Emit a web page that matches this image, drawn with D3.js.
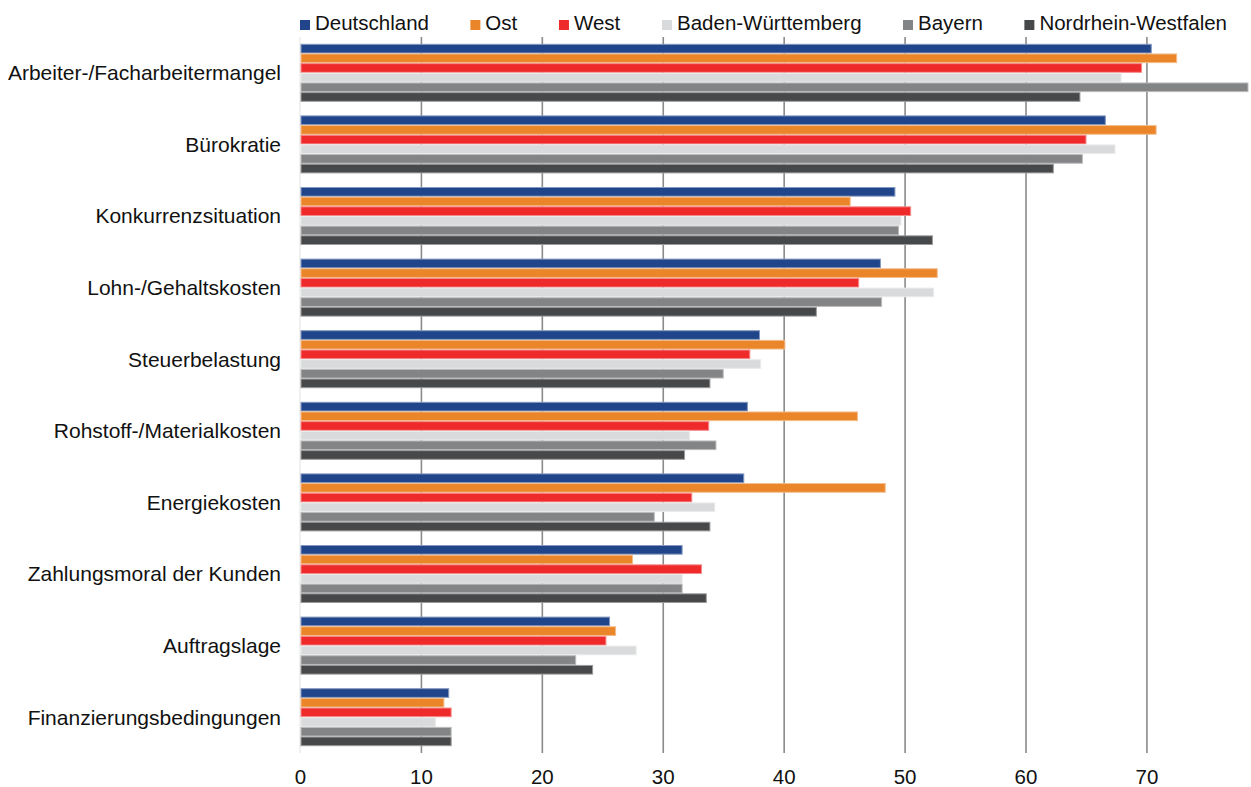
<!DOCTYPE html>
<html>
<head>
<meta charset="utf-8">
<script src="https://cdn.jsdelivr.net/npm/d3@7"></script>
<style>
  body { margin: 0; background: #fff; overflow: hidden; }
  svg { display: block; }
  text { font-family: "Liberation Sans", Arial, sans-serif; fill: #111; }
</style>
</head>
<body>
<div class="barchart"></div>
<script>
const categories = [
  "Arbeiter-/Facharbeitermangel", "Bürokratie", "Konkurrenzsituation",
  "Lohn-/Gehaltskosten", "Steuerbelastung", "Rohstoff-/Materialkosten",
  "Energiekosten", "Zahlungsmoral der Kunden", "Auftragslage",
  "Finanzierungsbedingungen"
];
const seriesNames = ["Deutschland", "Ost", "West", "Baden-Württemberg", "Bayern", "Nordrhein-Westfalen"];
const seriesColors = ["#21458a", "#ea852a", "#ee2a2a", "#d9dadb", "#838486", "#474849"];

const deutschland = [70.4, 66.6, 49.2, 48.0, 38.0, 37.0, 36.7, 31.6, 25.6, 12.3];
const ost         = [72.5, 70.8, 45.5, 52.7, 40.1, 46.1, 48.4, 27.5, 26.1, 11.9];
const west        = [69.6, 65.0, 50.5, 46.2, 37.2, 33.8, 32.4, 33.2, 25.3, 12.5];
const badenWuert  = [67.9, 67.4, 49.7, 52.4, 38.1, 32.2, 34.3, 31.6, 27.8, 11.2];
const bayern      = [78.4, 64.7, 49.5, 48.1, 35.0, 34.4, 29.3, 31.6, 22.8, 12.5];
const nrw         = [64.5, 62.3, 52.3, 42.7, 33.9, 31.8, 33.9, 33.6, 24.2, 12.5];
const seriesValues = [deutschland, ost, west, badenWuert, bayern, nrw];

const tickValues = [0, 10, 20, 30, 40, 50, 60, 70];
const xMax = 78.4;

const width = 1251, height = 787;
const margin = { top: 37, right: 3, bottom: 34, left: 300 };
const plotW = width - margin.left - margin.right;
const plotH = height - margin.top - margin.bottom;

const chart = d3.select(".barchart").append("svg")
  .attr("width", width)
  .attr("height", height);

const plotArea = chart.append("g")
  .attr("transform", `translate(${margin.left}, ${margin.top})`);

const x = d3.scaleLinear().domain([0, xMax]).range([0, plotW]).clamp(true);
const y = d3.scaleBand().domain(categories).range([0, plotH]).paddingInner(0.19).paddingOuter(0.095);
const ySub = d3.scaleBand().domain(seriesNames).range([0, y.bandwidth()]);
const color = d3.scaleOrdinal().domain(seriesNames).range(seriesColors);

// gridlines (behind bars)
plotArea.append("g")
  .call(d3.axisBottom(x).tickValues(tickValues.filter(t => t > 0)).tickSize(plotH).tickFormat(""))
  .call(g => g.select(".domain").remove())
  .call(g => g.selectAll("line").attr("stroke", "#8a8a8a").attr("stroke-width", 1.6));

// zero line
plotArea.append("line")
  .attr("x1", x(0)).attr("x2", x(0))
  .attr("y1", 0).attr("y2", plotH)
  .attr("stroke", "#e2e2e2");

const rows = categories.map((c, i) => ({
  category: c,
  values: seriesNames.map((s, j) => ({ name: s, value: seriesValues[j][i] }))
}));

const groups = plotArea.selectAll("g.group")
  .data(rows)
  .enter()
  .append("g")
  .attr("class", "group")
  .attr("transform", d => `translate(0, ${y(d.category)})`);

groups.selectAll("rect")
  .data(d => d.values)
  .enter()
  .append("rect")
  .attr("x", x(0) + 1)
  .attr("y", d => ySub(d.name) + 0.5)
  .attr("height", ySub.bandwidth() - 1)
  .attr("width", d => x(d.value) - x(0) - 1)
  .attr("fill", d => color(d.name))
  .attr("stroke", d => d3.interpolateRgb(color(d.name), "#fff")(0.45))
  .attr("stroke-width", 1);

// category labels
plotArea.append("g")
  .selectAll("text")
  .data(categories)
  .enter()
  .append("text")
  .attr("x", -19)
  .attr("y", d => y(d) + y.bandwidth() / 2)
  .attr("dy", "0.35em")
  .style("text-anchor", "end")
  .style("font-size", "21px")
  .text(d => d);

// x tick labels
plotArea.append("g")
  .attr("transform", `translate(0, ${plotH})`)
  .call(d3.axisBottom(x).tickValues(tickValues).tickSize(0).tickPadding(16))
  .call(g => g.select(".domain").remove())
  .call(g => g.selectAll("text")
    .style("font-size", "20.5px")
    .style("font-family", "'Liberation Sans', Arial, sans-serif")
    .attr("fill", "#111"));

// legend
const legend = chart.append("g").attr("transform", "translate(0, 30)");
const items = legend.selectAll("g")
  .data(seriesNames)
  .enter()
  .append("g");
items.append("rect")
  .attr("y", -10)
  .attr("width", 10)
  .attr("height", 10)
  .attr("fill", d => color(d));
items.append("text")
  .attr("x", 15)
  .style("font-size", "20.5px")
  .text(d => d);

const legendStart = 300, legendEnd = 1227;
const itemW = [];
items.each(function() { itemW.push(this.getBBox().width); });
const gap = (legendEnd - legendStart - d3.sum(itemW)) / (itemW.length - 1);
let pos = legendStart;
items.attr("transform", (d, i) => {
  const t = `translate(${pos}, 0)`;
  pos += itemW[i] + gap;
  return t;
});
</script>
</body>
</html>
